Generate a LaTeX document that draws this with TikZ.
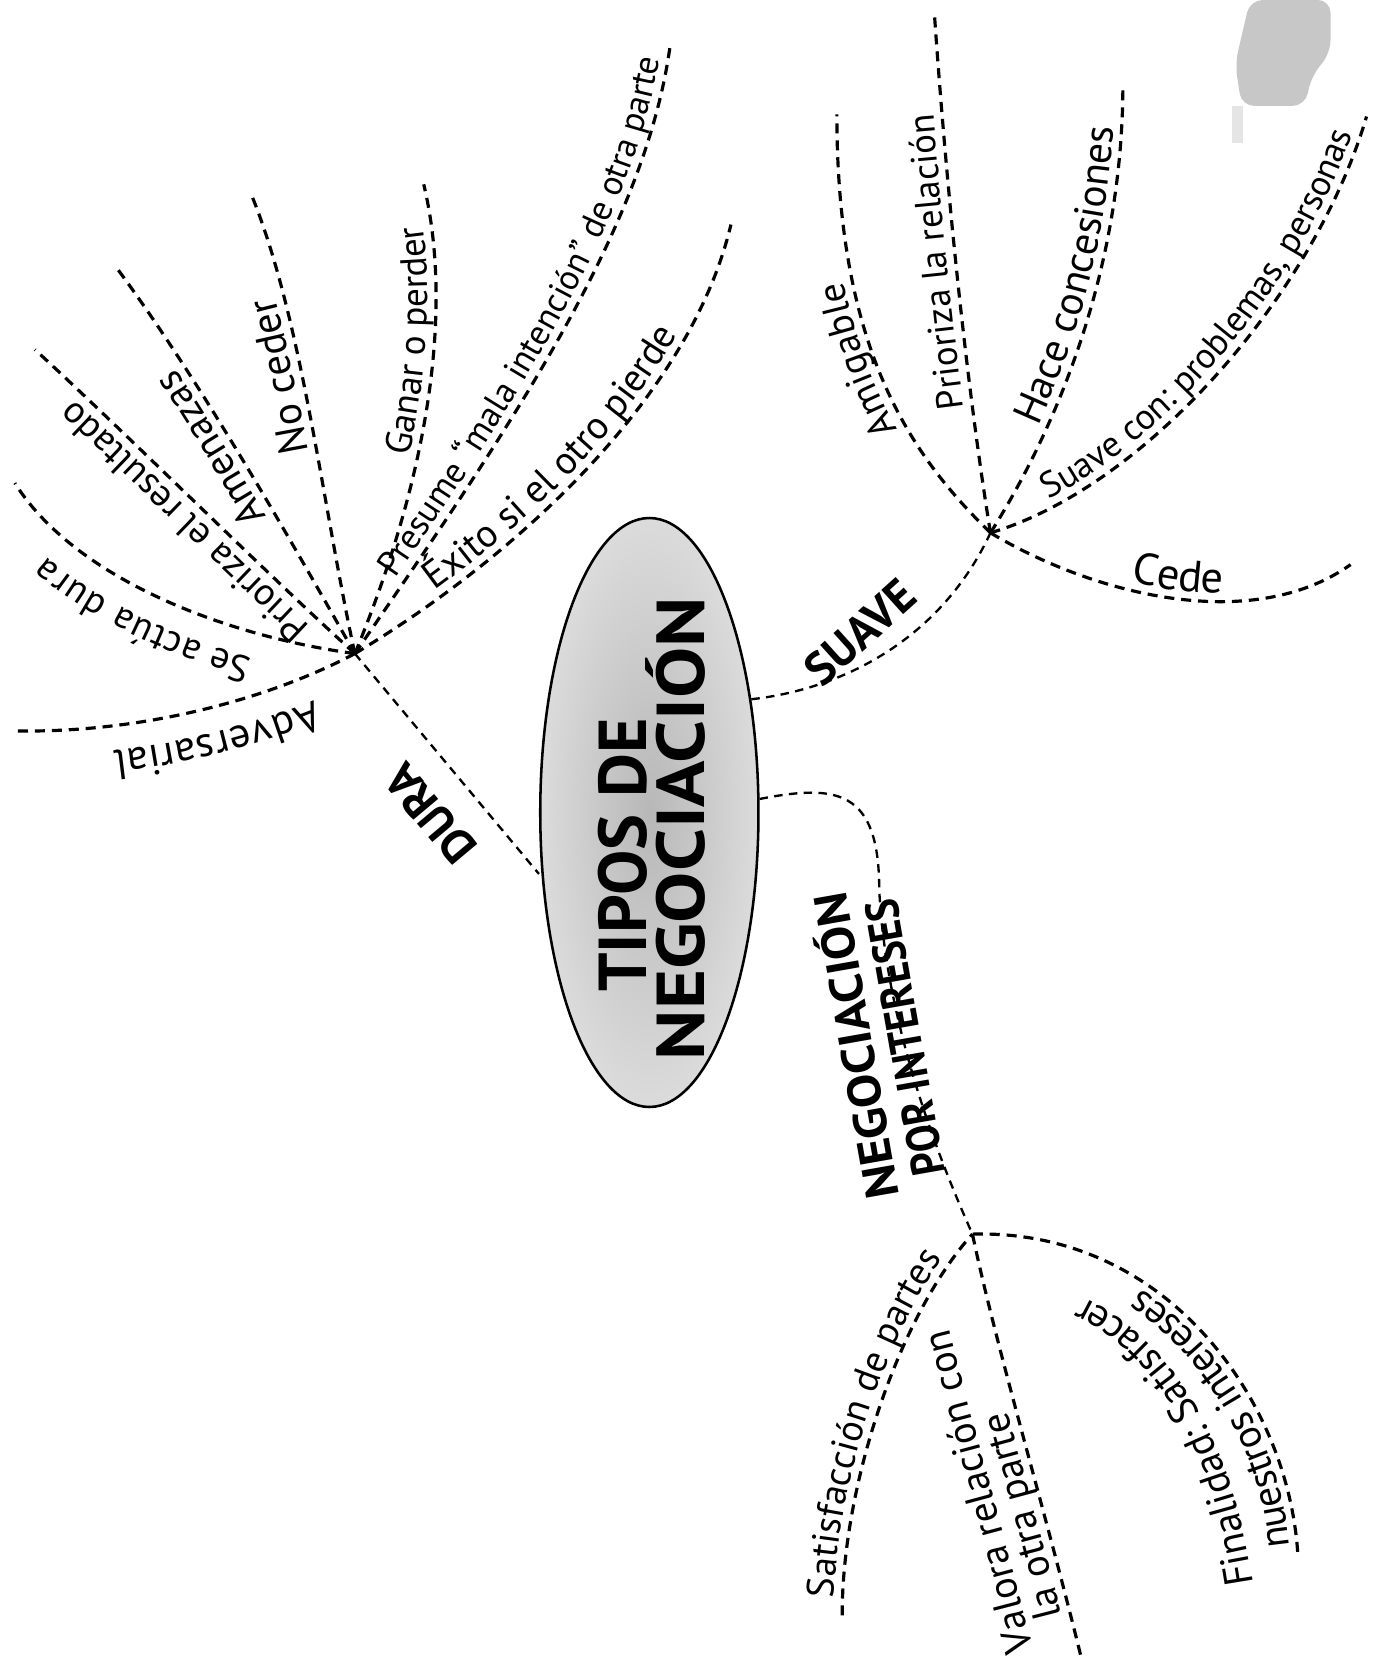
\documentclass[tikz,border=0pt]{standalone}
\usepackage{fontspec}
\usepackage{graphicx}
\setmainfont{PT Sans}
\usetikzlibrary{shapes.geometric,decorations.text}
\newcommand\hdfont{\fontsize{22}{23}\selectfont\bfseries}
\newcommand\ttlfont{\fontsize{32}{34}\selectfont\bfseries}
\newcommand\fsz[1]{\fontsize{#1}{#1}\selectfont}
\begin{document}
\begin{tikzpicture}[x=0.5pt,y=-0.5pt,
  dline/.style={line width=1.5pt, dash pattern=on 4.75pt off 3.25pt},
  mline/.style={line width=1.1pt, dash pattern=on 4pt off 3pt},
  hd/.style={font=\hdfont, inner sep=0pt},
  lbl/.style n args={4}{postaction={decorate, decoration={text along path,
      text={|\fsz{#4}|#1}, text align={left indent=#2}, raise=#3}}},
  txtpath/.style n args={3}{decorate, decoration={text along path,
      text={|\fsz{#3}|#1}, text align={left indent=#2}, raise=0pt}}
]
\useasboundingbox (0,0) rectangle (1307,1568);
\fill[white] (0,0) rectangle (1307,1568);

% scan blot at the top right
\fill[black!22, rounded corners=6pt] (1180,0) -- (1256,0) -- (1256,50) -- (1238,72) -- (1232,100) -- (1172,100) -- (1166,60) -- cycle;
\fill[black!10] (1163,100) rectangle (1173,135);

% central ellipse
\node[ellipse, draw, line width=1.2pt, inner color=black!28, outer color=black!14,
  minimum width=103pt, minimum height=278pt, inner sep=0pt] (ell) at (613,767) {};
\node[rotate=90, font=\ttlfont, inner sep=0pt] (t1) at (588,807) {TIPOS DE};
\node[rotate=90, font=\ttlfont, inner sep=0pt] (t2) at (638,782) {\scalebox{1.13}[1]{NEGOCIACIÓN}};

% hubs
\coordinate (hd) at (335,617);
\coordinate (hs) at (935,503);
\coordinate (hi) at (918,1165);

% main connectors
\draw[mline, shorten >=2pt] (hd) -- (ell.211);
\draw[mline] (ell.48) .. controls (800,650) and (890,600) .. (hs);
\draw[mline] (ell.7) .. controls (790,740) and (830,745) .. (830,840)
   .. controls (836,960) and (880,1080) .. (hi);

\node[hd, rotate=130] (dura) at (406,768) {DURA};
\node[hd, rotate=42] (suave) at (812,597) {SUAVE};
\node[hd, rotate=100, align=center] (nego) at (828,984)
  {\scalebox{1.1}[1]{NEGOCIACIÓN}\\\scalebox{0.88}[1]{POR INTERESES}};

% DURA branches
\coordinate (d1) at (15,690);
\coordinate (d2) at (14,456);
\coordinate (d3) at (33,330);
\coordinate (d4) at (108,250);
\coordinate (d5) at (237,183);
\coordinate (d6) at (400,174);
\coordinate (d7) at (633,40);
\coordinate (d8) at (690,212);
\draw[dline, lbl={Adversarial}{26pt}{12pt}{20}] (hd) .. controls (250,662) and (130,692) .. (d1);
\draw[dline, lbl={Se actúa dura}{46pt}{12pt}{18}] (hd) .. controls (210,600) and (70,545) .. (d2);
\draw[dline, lbl={Prioriza el resultado}{24pt}{4.5pt}{18}] (hd) .. controls (250,540) and (120,410) .. (d3);
\draw[dline, lbl={Amenazas}{77pt}{4pt}{19}] (hd) .. controls (280,520) and (190,360) .. (d4);
\draw[dline, lbl={No ceder}{98pt}{4pt}{19.5}] (hd) .. controls (305,480) and (285,300) .. (d5);
\draw[dline, lbl={Ganar o perder}{97pt}{4pt}{17.5}] (hd) .. controls (400,460) and (430,300) .. (d6);
\draw[dline, lbl={Presume “mala intención” de otra parte}{40pt}{4pt}{16.6}] (hd) .. controls (470,420) and (610,220) .. (d7);
\draw[dline, lbl={Éxito si el otro pierde}{48pt}{4pt}{18.4}] (hd) .. controls (480,530) and (650,380) .. (d8);

% SUAVE branches
\coordinate (s1) at (790,108);
\coordinate (s2) at (882,12);
\coordinate (s3) at (1060,80);
\coordinate (s4) at (1290,110);
\coordinate (s5) at (1275,533);
\draw[dline, lbl={Amigable}{65pt}{4pt}{18.2}] (hs) .. controls (860,430) and (790,330) .. (s1);
\draw[dline, lbl={Prioriza la relación}{60pt}{4pt}{17.4}] (hs) .. controls (915,380) and (895,200) .. (s2);
\draw[dline, lbl={Hace concesiones}{55pt}{4pt}{19.5}] (hs) .. controls (1000,400) and (1060,250) .. (s3);
\draw[dline, lbl={Suave con: problemas, personas}{32pt}{4pt}{17}] (hs) .. controls (1080,460) and (1240,280) .. (s4);
\draw[dline, lbl={Cede}{71pt}{4pt}{21}] (hs) .. controls (1030,560) and (1180,600) .. (s5);

% INTERESES branches
\coordinate (i1) at (795,1525);
\coordinate (i2) at (1020,1562);
\coordinate (i3) at (1225,1465);
\draw[dline, lbl={Satisfacción de partes}{8pt}{4pt}{18}] (i1) .. controls (795,1400) and (850,1240) .. (hi);
\draw[dline, lbl={Valora relación con}{8pt}{21pt}{19}, lbl={la otra parte}{20pt}{4pt}{19}] (i2) .. controls (985,1420) and (940,1270) .. (hi);
\draw[dline, lbl={nuestros intereses}{3pt}{3.5pt}{19}] (i3) .. controls (1215,1320) and (1100,1160) .. (hi);
\coordinate (f0) at (1183,1495);
\coordinate (f1) at (918,1200);
\path[txtpath={Finalidad: Satisfacer}{0pt}{19}] (f0) .. controls (1160,1340) and (1085,1205) .. (f1);
\end{tikzpicture}
\end{document}
